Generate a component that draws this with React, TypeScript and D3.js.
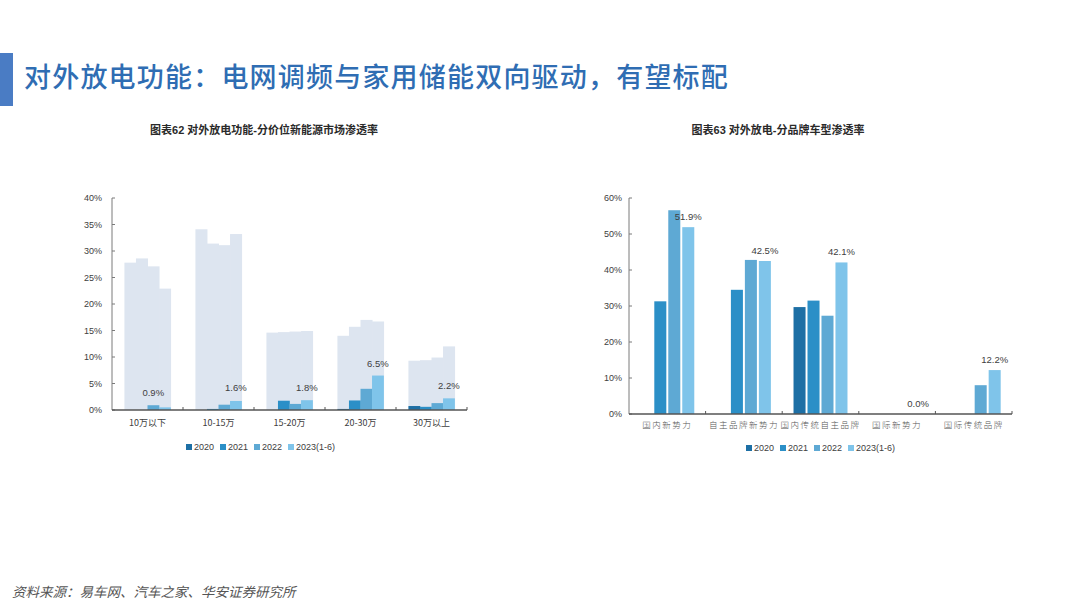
import React from 'react';
import * as d3 from 'd3';

const years = ['2020', '2021', '2022', '2023(1-6)'];
const colors = ['#1d6fa5', '#2b8fc7', '#5ea9d4', '#7fc4ea'];

// chart 62
const priceBands = ['10万以下', '10-15万', '15-20万', '20-30万', '30万以上'];
const bgShare = [
  [27.8, 28.6, 27.1, 22.9],
  [34.1, 31.4, 31.1, 33.2],
  [14.6, 14.7, 14.8, 14.9],
  [14.0, 15.7, 17.0, 16.7],
  [9.3, 9.4, 9.9, 12.0],
];
const priceShare = [
  [0, 0, 0.9, 0.5],
  [0, 0.2, 1.0, 1.7],
  [0, 1.75, 1.15, 1.85],
  [0.2, 1.8, 4.0, 6.5],
  [0.75, 0.6, 1.3, 2.2],
];
const priceLabels = ['0.9%', '1.6%', '1.8%', '6.5%', '2.2%'];
const priceLabelSlot = [2, 3, 3, 3, 3];
const priceLabelVal = [0.9, 1.8, 1.85, 6.5, 2.2];

// chart 63
const brandTypes = ['国内新势力', '自主品牌新势力', '国内传统自主品牌', '国际新势力', '国际传统品牌'];
const brandShare = [
  [null, 31.3, 56.6, 51.9],
  [null, 34.5, 42.8, 42.5],
  [29.7, 31.5, 27.3, 42.1],
  [null, null, null, 0],
  [null, null, 8.0, 12.2],
];
const brandLabels = ['51.9%', '42.5%', '42.1%', '0.0%', '12.2%'];

const axisColor = '#7a7a7a';
const textColor = '#404040';
const font = 'Arial, "Liberation Sans", "Noto Sans CJK SC", sans-serif';

function Legend({ cx, y }: { cx: number; y: number }) {
  const widths = [34, 34, 34, 60];
  const total = d3.sum(widths);
  let x = cx - total / 2;
  return (
    <g>
      {years.map((yr, i) => {
        const x0 = x;
        x += widths[i];
        return (
          <g key={yr}>
            <rect x={x0} y={y - 6} width={6} height={6} fill={colors[i]} />
            <text x={x0 + 8} y={y} fontSize={9} fill={textColor} fontFamily={font}>{yr}</text>
          </g>
        );
      })}
    </g>
  );
}

function PriceChart() {
  const x0 = 112, x1 = 467, yTop = 198, yBot = 410;
  const x = d3.scaleBand<string>().domain(priceBands).range([x0, x1]).paddingInner(0.35).paddingOuter(0.175);
  const xi = d3.scaleBand<string>().domain(years).range([0, x.bandwidth()]).padding(0);
  const y = d3.scaleLinear().domain([0, 40]).range([yBot, yTop]);
  const ticks = d3.range(0, 41, 5);
  const step = (x1 - x0) / priceBands.length;
  return (
    <g fontFamily={font}>
      <text x={264} y={134} textAnchor="middle" fontSize={11} fontWeight="bold" fill="#2a2a2a">
        图表62 对外放电功能-分价位新能源市场渗透率
      </text>
      {priceBands.map((c, gi) =>
        bgShare[gi].map((v, i) => (
          <rect key={`bg${gi}-${i}`} x={x(c)! + xi(years[i])!} y={y(v)} width={xi.bandwidth() + 0.5} height={yBot - y(v)} fill="#dde5f0" />
        ))
      )}
      {priceBands.map((c, gi) =>
        priceShare[gi].map((v, i) =>
          v > 0 ? (
            <rect key={`b${gi}-${i}`} x={x(c)! + xi(years[i])!} y={y(v)} width={xi.bandwidth() + 0.3} height={yBot - y(v)} fill={colors[i]} />
          ) : null
        )
      )}
      {priceBands.map((c, gi) => (
        <text key={`l${gi}`} x={x(c)! + xi(years[priceLabelSlot[gi]])! + xi.bandwidth() / 2} y={y(priceLabelVal[gi]) - 9} textAnchor="middle" fontSize={9.5} fill={textColor}>
          {priceLabels[gi]}
        </text>
      ))}
      <line x1={x0} x2={x0} y1={yTop} y2={yBot} stroke={axisColor} />
      {ticks.map((t) => (
        <g key={t}>
          <line x1={x0} x2={x0 + 3} y1={y(t)} y2={y(t)} stroke={axisColor} />
          <text x={102} y={y(t) + 3} textAnchor="end" fontSize={9} fill={textColor}>{t}%</text>
        </g>
      ))}
      <line x1={x0} x2={x1} y1={yBot} y2={yBot} stroke="#555" strokeWidth={1.5} />
      {d3.range(1, priceBands.length + 1).map((k) => (
        <line key={k} x1={x0 + k * step} x2={x0 + k * step} y1={yBot} y2={yBot - 3} stroke="#555" />
      ))}
      {priceBands.map((c) => (
        <text key={c} x={x(c)! + x.bandwidth() / 2} y={426} textAnchor="middle" fontSize={9} fill={textColor} fontFamily='"Noto Sans CJK SC", sans-serif'>
          {c}
        </text>
      ))}
      <Legend cx={267} y={450} />
    </g>
  );
}

function BrandChart() {
  const x0 = 629, x1 = 1012, yTop = 198, yBot = 414;
  const x = d3.scaleBand<string>().domain(brandTypes).range([x0, x1]).paddingInner(0.27).paddingOuter(0.135);
  const xi = d3.scaleBand<string>().domain(years).range([0, x.bandwidth()]).paddingInner(0.14).paddingOuter(0.07);
  const y = d3.scaleLinear().domain([0, 60]).range([yBot, yTop]);
  const ticks = d3.range(0, 61, 10);
  const step = (x1 - x0) / brandTypes.length;
  return (
    <g fontFamily={font}>
      <text x={778} y={134} textAnchor="middle" fontSize={11} fontWeight="bold" fill="#2a2a2a">
        图表63 对外放电-分品牌车型渗透率
      </text>
      {brandTypes.map((c, gi) =>
        brandShare[gi].map((v, i) =>
          v ? (
            <rect key={`b${gi}-${i}`} x={x(c)! + xi(years[i])!} y={y(v)} width={xi.bandwidth()} height={yBot - y(v)} fill={colors[i]} />
          ) : null
        )
      )}
      {brandTypes.map((c, gi) => {
        const v = brandShare[gi][3] ?? 0;
        return (
          <text key={`l${gi}`} x={x(c)! + xi(years[3])! + xi.bandwidth() / 2} y={y(v) - 7} textAnchor="middle" fontSize={9.5} fill={textColor}>
            {brandLabels[gi]}
          </text>
        );
      })}
      <line x1={x0} x2={x0} y1={yTop} y2={yBot} stroke={axisColor} />
      {ticks.map((t) => (
        <g key={t}>
          <line x1={x0} x2={x0 + 3} y1={y(t)} y2={y(t)} stroke={axisColor} />
          <text x={622} y={y(t) + 3} textAnchor="end" fontSize={9} fill={textColor}>{t}%</text>
        </g>
      ))}
      <line x1={x0} x2={x1} y1={yBot} y2={yBot} stroke="#555" strokeWidth={1.5} />
      {d3.range(1, brandTypes.length + 1).map((k) => (
        <line key={k} x1={x0 + k * step} x2={x0 + k * step} y1={yBot} y2={yBot - 3} stroke="#555" />
      ))}
      {brandTypes.map((c) => (
        <text key={c} x={x(c)! + x.bandwidth() / 2} y={428} textAnchor="middle" fontSize={8.5} fill="#555" letterSpacing={1.5} fontFamily='"Noto Sans CJK SC", sans-serif' fontWeight={300}>
          {c}
        </text>
      ))}
      <Legend cx={827} y={451} />
    </g>
  );
}

export default function App() {
  return (
    <svg width={1080} height={607} style={{ position: 'absolute', left: 0, top: 0, background: '#fff' }}>
      <rect x={0} y={0} width={1080} height={607} fill="#fff" />
      <rect x={0} y={53} width={13} height={53} fill="#4a7cc4" />
      <text x={24} y={87} fontSize={27} fontWeight={500} fill="#2f6db3" letterSpacing={1.2} fontFamily='"Noto Sans CJK SC", sans-serif'>
        对外放电功能：电网调频与家用储能双向驱动，有望标配
      </text>
      <PriceChart />
      <BrandChart />
      <text x={12} y={597} fontSize={13.5} fontStyle="italic" fill="#555" fontFamily='"Noto Sans CJK SC", sans-serif'>
        资料来源：易车网、汽车之家、华安证券研究所
      </text>
    </svg>
  );
}
